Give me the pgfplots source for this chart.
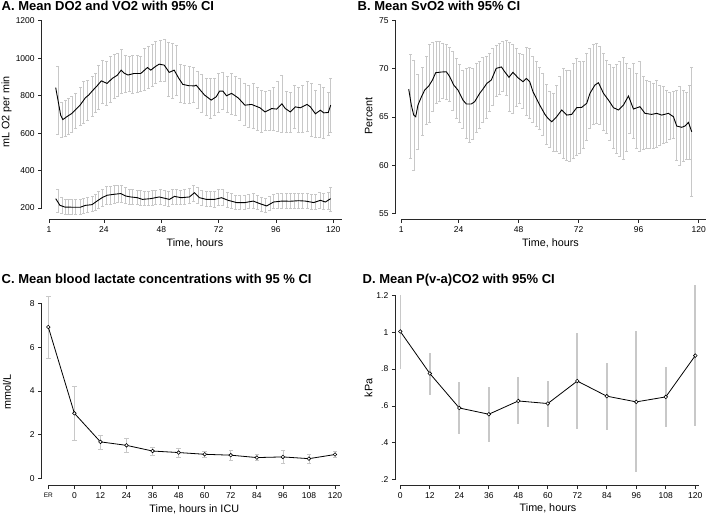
\documentclass[border=0pt]{standalone}
\usepackage{pgfplots}
\pgfplotsset{compat=1.18}
\usepackage{pgfplotstable}
\usepackage{fontspec}
\setmainfont{Liberation Sans}
\definecolor{cigray}{RGB}{200,200,200}
\definecolor{axgray}{RGB}{40,40,40}

\pgfplotstableread{
h v
3.8 843
5.9 695
6.8 672
8.5 688
10.6 705
12.3 727
14 749
16.2 788
17.6 803
19.4 829
21 850
22.9 879
25.3 865
27.5 892
29.6 909
31.2 936
32.5 920
34 910
36.6 918
39.4 918
42.2 950
43.6 936
45.5 955
47.1 968
49.2 963
50.2 945
51.3 924
53.4 936
55.2 895
57 860
59.5 853
61.9 852
62.6 856
64.3 830
66.1 803
68.9 776
71 794
72.4 824
73.8 824
75.3 799
77.4 812
80.2 788
83 749
85.8 753
89.3 735
91.4 713
94.2 731
96.3 728
98.5 756
99.9 731
102 713
104.1 740
106.2 735
109 753
110.4 740
112.5 703
114.6 722
116 708
117.9 710
118.9 749
}\doline

\pgfplotstableread{
h lo hi
4.7 594 959
6.4 580 767
7.75 585 776
9.1 594 785
10.6 606 797
12.2 624 811
14.1 642 847
15.5 651 874
17.2 669 883
19 692 901
20.4 713 918
21.8 726 963
23.2 758 986
24.9 749 981
26.7 767 1008
28.4 785 1020
29.8 797 1025
31.2 812 1047
33.1 820 1013
34.5 824 1008
35.9 815 1017
38 820 1017
39.4 824 1008
40.8 829 1052
42.5 838 1061
44.3 851 1074
45.7 865 1091
47.5 874 1097
49.5 874 1100
50.9 794 1084
52.8 785 1079
54.2 803 1070
56 763 967
57.7 758 963
59.8 758 954
61.4 763 950
63.3 731 931
65 713 913
66.8 696 895
68.5 678 892
70.3 696 892
72 713 918
73.8 728 927
75.7 713 901
77.4 699 918
79.1 696 904
80.9 669 892
83 642 865
84.7 633 856
86.5 624 865
88.2 615 847
90 606 829
91.7 615 824
93.5 615 829
95 615 847
96.8 610 874
98.5 606 906
100.3 603 824
102 603 817
103.8 624 853
105.5 606 847
107.2 606 856
109 610 877
110.7 585 865
112.5 580 829
114.4 580 860
116 574 842
117.9 589 820
118.9 606 895
}\doci

\pgfplotstableread{
h v
3.8 250
5.6 214
7.7 205
11.3 204
14.1 204
16.2 214
19 218
21.1 237
23.2 255
25.3 268
28.1 273
31 277
33.1 264
35.2 259
38 255
40.1 246
43.6 250
47.1 259
51.4 246
53.5 262
56.3 255
59.8 259
61.9 282
64 255
66.8 246
70.3 246
73.2 255
76 241
79.5 229
83 229
86.5 237
89.3 223
92.1 211
95 232
98.5 237
102 236
105.5 239
108.3 237
111.8 229
114.6 241
116.7 232
118.9 250
}\voline

\pgfplotstableread{
h lo hi
4.7 175 300
6.4 172 255
7.75 168 248
9.1 168 247
10.6 167 245
12.2 168 245
14.1 168 244
15.5 172 250
17.2 176 256
19 180 260
20.4 190 274
21.8 200 290
23.2 210 302
24.9 218 314
26.7 222 318
28.4 226 320
29.8 228 320
31.2 232 322
33.1 225 308
34.5 222 302
35.9 220 300
38 218 296
39.4 214 292
40.8 212 288
42.5 213 290
44.3 216 292
45.7 218 296
47.5 220 298
49.5 215 292
50.9 210 288
52.8 220 298
54.2 222 300
56 218 296
57.7 220 298
59.8 224 304
61.4 236 322
63.3 226 310
65 213 292
66.8 208 288
68.5 208 288
70.3 206 290
72 212 298
73.8 214 298
75.7 204 286
77.4 198 278
79.1 193 270
80.9 193 268
83 194 268
84.7 197 272
86.5 200 276
88.2 193 266
90 184 256
91.7 178 250
93.5 190 264
95 196 272
96.8 198 276
98.5 200 278
100.3 200 278
102 199 276
103.8 200 278
105.5 201 280
107.2 200 279
109 197 276
110.7 193 272
112.5 192 272
114.4 200 282
116 194 278
117.9 195 285
118.9 185 310
}\voci

\pgfplotstableread{
h v
4.0 67.9
5.05 66.24
6.0 65.2
6.8 65.03
7.7 66.24
9.1 67.1
10.4 67.8
12.1 68.25
13.5 68.84
14.8 69.6
17.05 69.67
19.05 69.7
20.4 69.19
22.0 68.32
23.7 67.8
25.7 66.76
27.05 66.35
29.0 66.35
30.4 66.59
32.4 67.46
33.7 67.9
35.3 68.5
37.05 68.84
39.0 70.05
41.1 70.2
42.4 69.7
44.1 69.12
45.7 69.64
47.7 69.08
49.7 68.67
51.05 69.0
52.4 68.67
53.7 67.63
56.4 66.24
58.5 65.27
59.7 64.86
61.2 64.51
63.2 65.03
65.2 65.73
67.2 65.2
69.2 65.27
71.2 65.97
73.2 66.0
75.2 66.42
76.5 67.46
78.5 68.32
79.9 68.56
81.9 67.46
83.9 66.76
85.9 65.97
87.9 65.73
89.9 66.24
91.9 67.18
93.9 65.83
96.5 66.07
98.5 65.38
101.2 65.27
103.2 65.38
105.2 65.2
107.9 65.38
109.9 65.03
111.2 64.06
113.2 63.93
114.5 64.06
115.9 64.44
117.2 63.47
}\svline

\pgfplotstableread{
h lo hi
4.65 60.7 71.5
6.1 59.5 70.9
7.7 61.6 69.4
9.5 63.1 70.2
11.05 64.2 71.3
12.4 64.45 72.5
13.7 65.6 72.8
15.05 66.4 72.9
16.4 66.66 72.9
17.7 66.9 72.7
19.05 66.8 72.6
20.4 66.6 72.2
21.7 65.7 71.8
23.05 64.9 71.1
24.4 64.5 70.5
25.7 63.8 69.9
27.05 62.8 70.1
28.4 62.4 70.2
29.7 62.7 70.1
31.05 63.4 70.6
32.4 63.8 70.8
33.7 64.5 71.2
35.05 64.9 71.3
36.4 65.6 71.6
37.7 66.2 72.1
39.05 67.1 72.4
40.4 67.35 72.65
41.7 67.7 72.9
43.05 67.3 73.0
44.4 65.55 72.8
45.7 65.4 72.5
47.05 66.1 72.1
48.4 66.4 71.6
49.7 65.9 71.5
51.05 65.2 72.2
52.4 64.9 72.1
53.7 64.5 71.3
55.05 64.0 70.8
56.4 63.7 70.2
57.7 63.1 69.5
59.2 62.2 68.4
60.5 61.9 67.7
61.9 61.4 67.5
63.2 61.4 68.3
64.5 61.2 69.2
65.9 60.7 70.05
67.2 60.5 69.8
68.5 60.4 69.9
69.9 60.7 70.6
71.2 61.05 71.1
72.5 61.2 70.75
73.9 61.75 70.75
75.2 62.6 71.6
76.5 63.8 72.1
77.9 64.2 72.5
79.2 64.3 72.65
80.5 64.2 72.3
81.9 63.65 71.6
83.2 63.3 70.9
84.5 62.6 70.5
85.9 61.75 70.2
87.2 61.2 70.5
88.5 60.9 70.75
89.9 60.6 71.2
91.2 61.4 70.6
92.5 63.3 70.05
93.9 62.8 70.6
95.2 61.75 69.5
96.5 61.4 70.8
97.9 61.6 69.2
99.2 61.75 68.8
100.5 61.8 68.7
101.9 61.75 68.5
103.2 61.9 68.8
104.5 62.1 68.3
105.9 62.3 68.15
107.2 62.4 67.8
108.5 62.7 67.6
109.9 62.8 67.7
111.2 60.5 67.8
112.5 60.0 68.15
113.9 60.4 67.8
115.2 60.6 67.6
116.3 60.6 68.25
117.2 56.8 70.2
}\svci

\pgfplotstableread{
h m lo hi
-12 6.93 5.50 8.36
0 2.98 1.76 4.20
12 1.67 1.33 1.99
24 1.51 1.18 1.83
36 1.25 1.06 1.44
48 1.18 0.95 1.36
60 1.10 0.98 1.22
72 1.06 0.83 1.27
84 0.95 0.81 1.10
96 0.98 0.70 1.27
108 0.90 0.69 1.12
120 1.09 0.96 1.22
}\lactate

\pgfplotstableread{
h m lo hi
0 1.004 0.80 1.20
12 0.776 0.662 0.889
24 0.589 0.449 0.731
36 0.555 0.407 0.704
48 0.627 0.500 0.758
60 0.613 0.485 0.735
72 0.735 0.473 0.998
84 0.653 0.467 0.831
96 0.622 0.240 1.004
108 0.649 0.485 0.813
120 0.873 0.489 1.255
}\pvaco

\pgfplotsset{
  stata/.style={
    scale only axis,
    axis lines=left,
    axis line style={-, line width=0.7pt, axgray},
    tick align=outside,
    major tick length=3.5pt,
    tick style={line width=0.7pt, axgray},
    ticklabel style={font=\fontsize{8.5}{10}\selectfont, text=black},
    label style={font=\fontsize{10.8}{12}\selectfont},
    /pgf/number format/assume math mode=true,
    /pgf/number format/1000 sep={},
    clip=false,
    xlabel style={anchor=base},
    ylabel style={anchor=base},
  },
  cibar/.style={only marks, mark size=0pt, mark options={draw=none, fill=none}, forget plot,
    error bars/.cd, y dir=both, y explicit, error mark=none,
    error bar style={draw=cigray, line width=0.6pt}},
  cicap/.style={only marks, mark=-, mark size=1.5pt, forget plot,
    mark options={draw=cigray, line width=0.6pt}},
}

\begin{document}
\begin{tikzpicture}[x=1pt,y=1pt]
\useasboundingbox (0,0) rectangle (712,515);

\node[anchor=base west, font=\fontsize{13}{15}\bfseries\selectfont, inner sep=0pt] at (1.5pt,504.5pt) {A. Mean DO2 and VO2 with 95\% CI};
\node[anchor=base west, font=\fontsize{13}{15}\bfseries\selectfont, inner sep=0pt] at (357.5pt,504.5pt) {B. Mean SvO2 with 95\% CI};
\node[anchor=base west, font=\fontsize{13}{15}\bfseries\selectfont, inner sep=0pt] at (1.5pt,232pt) {C. Mean blood lactate concentrations with 95 \% CI};
\node[anchor=base west, font=\fontsize{13}{15}\bfseries\selectfont, inner sep=0pt] at (362.5pt,232pt) {D. Mean P(v-a)CO2 with 95\% CI};

% Panel A
\begin{axis}[stata, at={(49pt,307pt)}, anchor=south west,
  width=292.9pt, height=187.3pt,
  xmin=1, xmax=123.6, ymin=200, ymax=1200,
  axis x line shift=11.3pt, axis y line shift=7.3pt,
  xtick={1,24,48,72,96,120}, ytick={200,400,600,800,1000,1200},
  xlabel={Time, hours}, ylabel={mL O2 per min},
  xlabel style={at={(axis description cs:0.498,-0.2066)}},
  ylabel style={at={(axis description cs:-0.1352,0.5126)}},
]
\addplot[cibar] table[x=h, y expr={(\thisrow{lo}+\thisrow{hi})/2}, y error expr={(\thisrow{hi}-\thisrow{lo})/2}] {\doci};
\addplot[cicap] table[x=h, y=lo] {\doci};
\addplot[cicap] table[x=h, y=hi] {\doci};
\addplot[cibar] table[x=h, y expr={(\thisrow{lo}+\thisrow{hi})/2}, y error expr={(\thisrow{hi}-\thisrow{lo})/2}] {\voci};
\addplot[cicap] table[x=h, y=lo] {\voci};
\addplot[cicap] table[x=h, y=hi] {\voci};
\addplot[black, line width=0.9pt, mark=none] table[x=h, y=v] {\doline};
\addplot[black, line width=0.9pt, mark=none] table[x=h, y=v] {\voline};
\end{axis}

% Panel B
\begin{axis}[stata, at={(401.2pt,301.7pt)}, anchor=south west,
  width=304.75pt, height=192.6pt,
  xmin=1, xmax=122.9, ymin=55, ymax=75,
  axis x line shift=6pt, axis y line shift=5.5pt,
  xtick={1,24,48,72,96,120}, ytick={55,60,65,70,75},
  xlabel={Time, hours}, ylabel={Percent},
  xlabel style={at={(axis description cs:0.49,-0.17)}},
  ylabel style={at={(axis description cs:-0.0948,0.506)}},
]
\addplot[cibar] table[x=h, y expr={(\thisrow{lo}+\thisrow{hi})/2}, y error expr={(\thisrow{hi}-\thisrow{lo})/2}] {\svci};
\addplot[cicap] table[x=h, y=lo] {\svci};
\addplot[cicap] table[x=h, y=hi] {\svci};
\addplot[black, line width=0.9pt, mark=none] table[x=h, y=v] {\svline};
\end{axis}

% Panel C
\begin{axis}[stata, at={(48.3pt,36.7pt)}, anchor=south west,
  width=291.7pt, height=174.6pt,
  xmin=-12, xmax=122.3, ymin=0, ymax=8,
  axis x line shift=7.2pt, axis y line shift=6.6pt,
  xtick={-12,0,12,24,36,48,60,72,84,96,108,120},
  xticklabels={{\fontsize{6.5}{7}\selectfont ER},0,12,24,36,48,60,72,84,96,108,120},
  ytick={0,2,4,6,8},
  xlabel={Time, hours in ICU}, ylabel={mmol/L},
  xlabel style={at={(axis description cs:0.5005,-0.193)}},
  ylabel style={at={(axis description cs:-0.1279,0.493)}},
]
\addplot[cibar] table[x=h, y=m, y error plus expr={\thisrow{hi}-\thisrow{m}}, y error minus expr={\thisrow{m}-\thisrow{lo}}] {\lactate};
\addplot[cicap, mark size=2.2pt] table[x=h, y=lo] {\lactate};
\addplot[cicap, mark size=2.2pt] table[x=h, y=hi] {\lactate};
\addplot[black, line width=0.8pt, mark=*, mark size=1.8pt, mark options={fill=white, draw=black, line width=0.6pt}] table[x=h, y=m] {\lactate};
\end{axis}

% Panel D
\begin{axis}[stata, at={(400.3pt,35.3pt)}, anchor=south west,
  width=298.9pt, height=184.4pt,
  xmin=0, xmax=121.6, ymin=0.2, ymax=1.2,
  axis x line shift=6pt, axis y line shift=5pt,
  xtick={0,12,24,36,48,60,72,84,96,108,120},
  ytick={0.2,0.4,0.6,0.8,1,1.2},
  yticklabels={.2,.4,.6,.8,1,1.2},
  xlabel={Time, hours}, ylabel={kPa},
  xlabel style={at={(axis description cs:0.494,-0.175)}},
  ylabel style={at={(axis description cs:-0.0937,0.497)}},
]
\addplot[only marks, mark size=0pt, mark options={draw=none, fill=none}, forget plot,
  error bars/.cd, y dir=both, y explicit, error mark=none,
  error bar style={draw=cigray, line width=1.6pt}]
  table[x=h, y=m, y error plus expr={\thisrow{hi}-\thisrow{m}}, y error minus expr={\thisrow{m}-\thisrow{lo}}] {\pvaco};
\addplot[black, line width=0.8pt, mark=*, mark size=1.8pt, mark options={fill=white, draw=black, line width=0.6pt}] table[x=h, y=m] {\pvaco};
\end{axis}
\end{tikzpicture}
\end{document}
